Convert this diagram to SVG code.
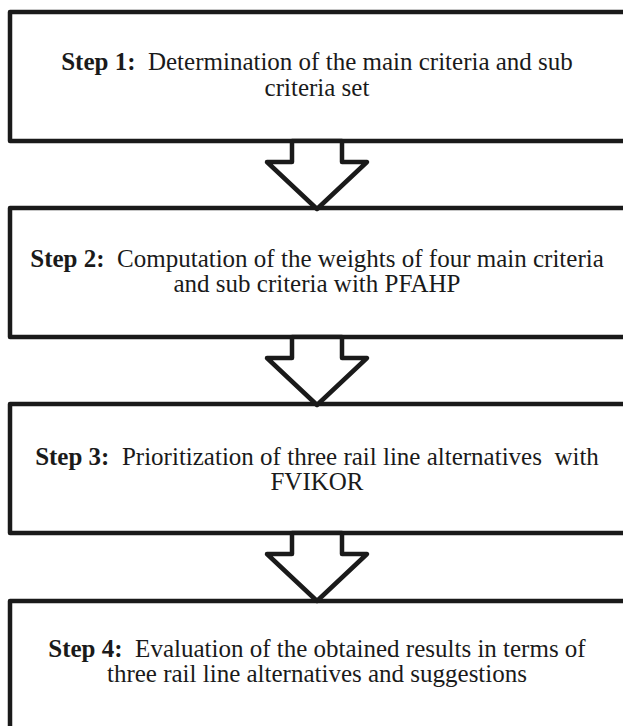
<svg xmlns="http://www.w3.org/2000/svg" width="623" height="726" viewBox="0 0 623 726">
<style>
.box{fill:#fff;stroke:#1a1a1a;stroke-width:4.5;stroke-linejoin:round}
.arr{fill:#fff;stroke:#1a1a1a;stroke-width:4.5;stroke-linejoin:round}
text{font-family:"Liberation Serif","Times New Roman",serif;font-size:25px;fill:#1a1a1a;text-anchor:middle;white-space:pre}
.b{font-weight:bold}
</style>
<rect width="623" height="726" fill="#fff"/>
<g id="n1">
<rect class="box" x="10" y="12" width="618" height="129"/>
<text x="317" y="70"><tspan class="b">Step 1:</tspan>  Determination of the main criteria and sub</text>
<text x="317" y="96">criteria set</text>
</g>
<g id="n2">
<rect class="box" x="10" y="208" width="618" height="129"/>
<text x="317" y="267"><tspan class="b">Step 2:</tspan>  Computation of the weights of four main criteria</text>
<text x="317" y="292">and sub criteria with PFAHP</text>
</g>
<g id="n3">
<rect class="box" x="10" y="404" width="618" height="129"/>
<text x="317" y="465"><tspan class="b">Step 3:</tspan>  Prioritization of three rail line alternatives  with</text>
<text x="317" y="490">FVIKOR</text>
</g>
<g id="n4">
<rect class="box" x="10" y="601" width="618" height="140"/>
<text x="317" y="657"><tspan class="b">Step 4:</tspan>  Evaluation of the obtained results in terms of</text>
<text x="317" y="682">three rail line alternatives and suggestions</text>
</g>
<g id="connectors">
<polygon class="arr" points="292,141 292,162 267,162 317,209 367,162 342,162 342,141"/>
<polygon class="arr" points="292,337 292,358 267,358 317,405 367,358 342,358 342,337"/>
<polygon class="arr" points="292,533 292,554 267,554 317,601 367,554 342,554 342,533"/>
</g>
</svg>
